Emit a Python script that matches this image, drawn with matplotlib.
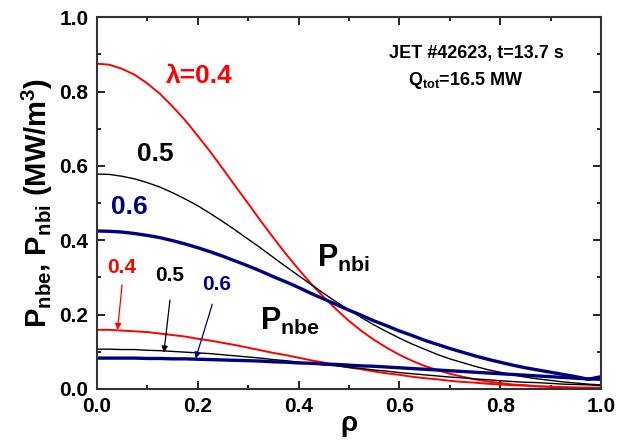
import matplotlib
matplotlib.use('Agg')
import matplotlib.pyplot as plt
from matplotlib.ticker import MultipleLocator

plt.rcParams['font.family'] = 'Liberation Sans'
plt.rcParams['font.weight'] = 'bold'
plt.rcParams['axes.labelweight'] = 'bold'
plt.rcParams['mathtext.fontset'] = 'custom'
plt.rcParams['mathtext.rm'] = 'Liberation Sans:bold'
plt.rcParams['mathtext.bf'] = 'Liberation Sans:bold'
plt.rcParams['mathtext.it'] = 'Liberation Sans:bold'

# radial grid (normalised minor radius)
rho = [0.000, 0.025, 0.050, 0.075, 0.100, 0.125, 0.150, 0.175, 0.200, 0.225,
       0.250, 0.275, 0.300, 0.325, 0.350, 0.375, 0.400, 0.425, 0.450, 0.475,
       0.500, 0.525, 0.550, 0.575, 0.600, 0.625, 0.650, 0.675, 0.700, 0.725,
       0.750, 0.775, 0.800, 0.825, 0.850, 0.875, 0.900, 0.925, 0.950, 0.975, 1.000]

# power density to ions, P_nbi (MW/m^3), for lambda = 0.4, 0.5, 0.6
pnbi_04 = [0.875, 0.872, 0.861, 0.845, 0.822, 0.794, 0.760, 0.723, 0.681, 0.638,
           0.592, 0.545, 0.499, 0.452, 0.407, 0.363, 0.322, 0.283, 0.247, 0.214,
           0.183, 0.156, 0.132, 0.111, 0.092, 0.076, 0.062, 0.051, 0.041, 0.033,
           0.026, 0.020, 0.016, 0.012, 0.010, 0.007, 0.006, 0.004, 0.003, 0.002, 0.002]
pnbi_05 = [0.578, 0.577, 0.572, 0.565, 0.555, 0.543, 0.528, 0.511, 0.493, 0.472,
           0.450, 0.427, 0.403, 0.379, 0.354, 0.329, 0.305, 0.281, 0.257, 0.234,
           0.213, 0.192, 0.172, 0.154, 0.137, 0.121, 0.107, 0.093, 0.081, 0.071,
           0.061, 0.052, 0.045, 0.038, 0.032, 0.027, 0.023, 0.019, 0.016, 0.013, 0.011]
pnbi_06 = [0.425, 0.424, 0.422, 0.418, 0.413, 0.407, 0.399, 0.390, 0.380, 0.369,
           0.357, 0.344, 0.331, 0.317, 0.302, 0.288, 0.273, 0.257, 0.242, 0.227,
           0.212, 0.198, 0.183, 0.170, 0.156, 0.144, 0.131, 0.120, 0.109, 0.099,
           0.089, 0.080, 0.072, 0.064, 0.057, 0.051, 0.045, 0.039, 0.033, 0.026, 0.033]

# power density to electrons, P_nbe (MW/m^3)
pnbe_04 = [0.159, 0.159, 0.157, 0.155, 0.153, 0.149, 0.145, 0.141, 0.135, 0.130,
           0.124, 0.118, 0.111, 0.104, 0.097, 0.091, 0.084, 0.077, 0.071, 0.064,
           0.058, 0.053, 0.047, 0.042, 0.038, 0.033, 0.029, 0.026, 0.022, 0.019,
           0.017, 0.014, 0.012, 0.010, 0.009, 0.007, 0.006, 0.005, 0.004, 0.004, 0.003]
pnbe_05 = [0.107, 0.107, 0.106, 0.106, 0.104, 0.103, 0.101, 0.099, 0.097, 0.095,
           0.092, 0.089, 0.086, 0.083, 0.079, 0.076, 0.072, 0.069, 0.065, 0.062,
           0.058, 0.055, 0.051, 0.048, 0.044, 0.041, 0.038, 0.035, 0.032, 0.030,
           0.027, 0.025, 0.022, 0.020, 0.018, 0.017, 0.015, 0.013, 0.012, 0.011, 0.009]
pnbe_06 = [0.083, 0.083, 0.083, 0.083, 0.082, 0.082, 0.081, 0.081, 0.080, 0.079,
           0.078, 0.077, 0.076, 0.075, 0.073, 0.072, 0.070, 0.069, 0.067, 0.066,
           0.064, 0.062, 0.061, 0.059, 0.057, 0.055, 0.053, 0.051, 0.049, 0.047,
           0.045, 0.043, 0.041, 0.039, 0.037, 0.035, 0.033, 0.031, 0.029, 0.027, 0.026]

RED = '#ff0000'
BLUE = '#000080'

fig = plt.figure(figsize=(6.17, 4.40), dpi=100)
ax = fig.add_axes([0.157, 0.116, 0.817, 0.845])

ax.plot(rho, pnbi_04, color=RED, lw=1.4)
ax.plot(rho, pnbi_05, color='black', lw=1.0)
ax.plot(rho, pnbi_06, color=BLUE, lw=2.4)
ax.plot(rho, pnbe_04, color=RED, lw=1.4)
ax.plot(rho, pnbe_05, color='black', lw=1.0)
ax.plot(rho, pnbe_06, color=BLUE, lw=2.4)

ax.set_xlim(0, 1)
ax.set_ylim(0, 1)
ax.xaxis.set_major_locator(MultipleLocator(0.2))
ax.xaxis.set_minor_locator(MultipleLocator(0.1))
ax.yaxis.set_major_locator(MultipleLocator(0.2))
ax.yaxis.set_minor_locator(MultipleLocator(0.1))
ax.tick_params(which='both', direction='in', top=True, right=True, width=1.2)
ax.tick_params(which='major', length=6, labelsize=15, pad=6)
ax.tick_params(which='minor', length=3)
for s in ax.spines.values():
    s.set_linewidth(1.5)
    s.set_color('#333333')

ax.set_xlabel('ρ', fontsize=20, labelpad=-4)
ax.set_ylabel(r'P$_{\mathbf{nbe}}$, P$_{\mathbf{nbi}}$ (MW/m$^{\mathbf{3}}$)', fontsize=21, labelpad=3)

# curve labels
ax.text(0.204, 0.841, 'λ=0.4', color=RED, fontsize=19, ha='center', va='center')
ax.text(0.115, 0.632, '0.5', color='black', fontsize=19, ha='center', va='center')
ax.text(0.065, 0.489, '0.6', color=BLUE, fontsize=19, ha='center', va='center')
ax.text(0.437, 0.328, r'P$_{\mathbf{nbi}}$', fontsize=22, ha='left', va='baseline')
ax.text(0.323, 0.159, r'P$_{\mathbf{nbe}}$', fontsize=22, ha='left', va='baseline')

ax.text(0.752, 0.890, 'JET #42623, t=13.7 s', fontsize=13, ha='center', va='baseline')
ax.text(0.732, 0.817, r'Q$_{\mathbf{tot}}$=16.5 MW', fontsize=13, ha='center', va='baseline')

# arrows pointing to the electron heating curves
arrows = [('0.4', RED, (0.050, 0.328), (0.050, 0.280), (0.041, 0.159)),
          ('0.5', 'black', (0.145, 0.304), (0.145, 0.239), (0.133, 0.098)),
          ('0.6', BLUE, (0.238, 0.282), (0.229, 0.228), (0.196, 0.082))]
for lab, col, tpos, start, tip in arrows:
    ax.text(tpos[0], tpos[1], lab, color=col, fontsize=15, ha='center', va='center')
    ax.annotate('', xy=tip, xytext=start,
                arrowprops=dict(arrowstyle='-|>', color=col, lw=0.9, mutation_scale=9,
                                shrinkA=0, shrinkB=0))

fig.savefig('out.png', dpi=100)
